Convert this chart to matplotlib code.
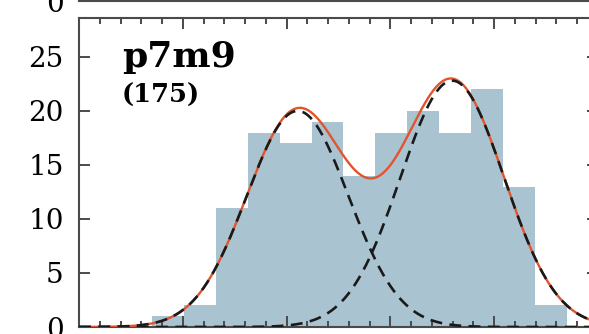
import numpy as np
import matplotlib
matplotlib.use('Agg')
import matplotlib.pyplot as plt

# Histograma con ajuste de dos gaussianas (panel p7m9)

etiqueta = 'p7m9'
n_total = '(175)'

# bordes de los bins y cuentas
bordes = [0.702, 1.010, 1.322, 1.625, 1.933, 2.240, 2.548, 2.856,
          3.163, 3.471, 3.779, 4.087, 4.394, 4.702]
cuentas = [1, 2, 11, 18, 17, 19, 14, 18, 20, 18, 22, 13, 2]

# parametros de las dos componentes (amplitud, media, sigma)
amp = [20.0, 22.8]
mu = [2.106, 3.596]
sig = [0.49, 0.50]

plt.rcParams['font.family'] = 'DejaVu Serif'
plt.rcParams['axes.linewidth'] = 1.5
plt.rcParams['axes.edgecolor'] = '#4a4a4a'

fig = plt.figure(figsize=(5.89, 3.34), dpi=100)
ax = fig.add_axes([79/589, 7/334, 519/589, 309/334])
# panel de arriba (cortado)
ax2 = fig.add_axes([79/589, 333/334, 519/589, 0.9])

x = np.linspace(0, 5, 600)
g1 = amp[0]*np.exp(-(x-mu[0])**2/(2*sig[0]**2))
g2 = amp[1]*np.exp(-(x-mu[1])**2/(2*sig[1]**2))

ax.stairs(cuentas, bordes, fill=True, color='#a9c4d0', lw=0)
ax.plot(x, g1+g2, color='#e2532e', lw=1.7, zorder=3)
ax.plot(x, g1, color='#1a1a1a', lw=1.9, ls=(0, (4.5, 2.8)), zorder=4)
ax.plot(x, g2, color='#1a1a1a', lw=1.9, ls=(0, (4.5, 2.8)), zorder=4)

ax.text(0.083, 0.84, etiqueta, transform=ax.transAxes, fontsize=26,
        fontweight='bold', ha='left', va='baseline')
ax.text(0.083, 0.725, n_total, transform=ax.transAxes, fontsize=18.5,
        fontweight='bold', ha='left', va='baseline')

for a in (ax, ax2):
    a.set_xlim(0, 5)
    a.set_xticks(np.arange(0, 6, 1))
    a.set_xticks(np.arange(0, 5, 0.2), minor=True)
    a.tick_params(which='both', direction='in', top=True, right=True,
                  color='#4a4a4a', width=1.4, labelbottom=False,
                  labelsize=20, pad=11)
    a.tick_params(which='major', length=8)
    a.tick_params(which='minor', length=4)

ax.set_ylim(0, 28.6)
ax.set_yticks([0, 5, 10, 15, 20, 25])
ax2.set_ylim(0, 28.6)
ax2.set_yticks([0])

fig.savefig('out.png', dpi=100)
